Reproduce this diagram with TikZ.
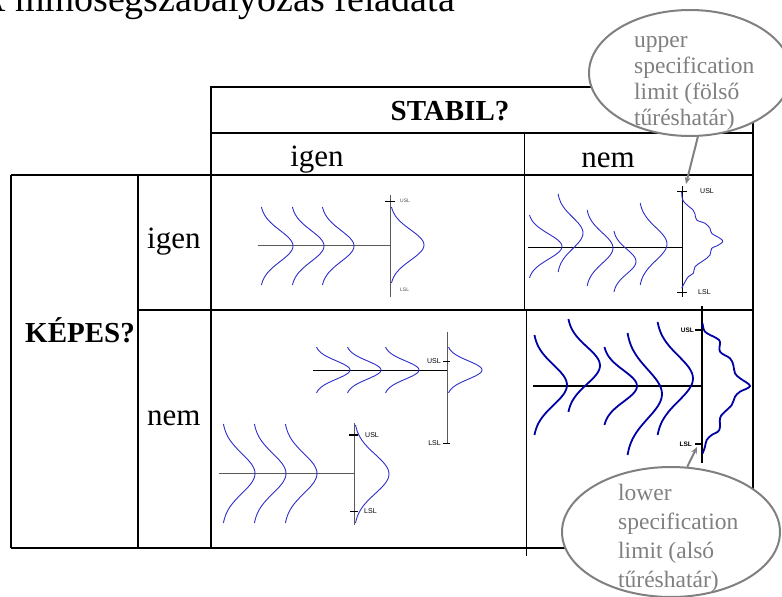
\documentclass[tikz,border=0pt]{standalone}
\usepackage{fontspec}
\setmainfont{Liberation Serif}
\newfontfamily\lsans{Liberation Sans}
\usetikzlibrary{arrows.meta,shapes.geometric}
\definecolor{bluecurve}{RGB}{45,45,200}
\definecolor{darkbluecurve}{RGB}{0,0,165}
\definecolor{callgray}{RGB}{128,128,128}
\newcommand\bellcurve[5]{%
  \draw[#1] plot[domain=-1:1,samples=41,smooth,variable=\t] ({#2+#5*exp(-3.125*\t*\t)},{#3+#4*\t});}
\tikzset{
  tableline/.style={black,line width=1.5},
  innerline/.style={black,line width=1},
  bellline/.style={bluecurve,line width=0.9},
  boldbell/.style={darkbluecurve,line width=1.8},
  greyaxis/.style={black!65,line width=1},
  blackaxis/.style={black,line width=1},
  thickaxis/.style={black,line width=1.6},
  tinylab/.style={font=\lsans\fontsize{5}{5}\selectfont,inner sep=0,black!70},
  smalllab/.style={font=\lsans\fontsize{7}{7}\selectfont,inner sep=0},
  boldlab/.style={font=\lsans\bfseries\fontsize{6.5}{6.5}\selectfont,inner sep=0},
  regtext/.style={font=\fontsize{31}{31}\selectfont,inner sep=0},
  boldtext/.style={font=\bfseries\fontsize{29}{29}\selectfont,inner sep=0},
  callout/.style={ellipse,draw=callgray,fill=white,line width=2,inner sep=0},
  calltext/.style={text=callgray,align=left,inner sep=0,anchor=base west},
  callarrow/.style={draw=callgray,line width=2,-{Stealth[length=7pt,width=6pt]}}
}
\begin{document}
\begin{tikzpicture}[x=1pt,y=-1pt]
\useasboundingbox (0,0) rectangle (782,597);
\clip (0,0) rectangle (782,597);
% title (cut at top)
\node[anchor=base west,inner sep=0,font=\fontsize{38}{38}\selectfont] (title) at (-22,12) {A minőségszabályozás feladata};
% table
\draw[tableline] (211,548) -- (211,87) -- (753,87) -- (753,548);
\draw[tableline] (211,133) -- (753,133);
\draw[tableline] (11,175) -- (753,175);
\draw[tableline] (138,310) -- (753,310);
\draw[tableline] (11,548) -- (753,548);
\draw[tableline] (11,175) -- (11,548);
\draw[tableline] (138,175) -- (138,548);
\draw[innerline] (524,133) -- (524,310);
\draw[innerline] (526,310) -- (526,556);
% headers
\node[boldtext,anchor=base] (stabil) at (450,120) {STABIL?};
\node[regtext,anchor=base] (sigen) at (317,166) {igen};
\node[regtext,anchor=base] (snem) at (608,167) {nem};
\node[boldtext,anchor=base west] (kepes) at (25,342) {KÉPES?};
\node[regtext,anchor=base west] (kigen) at (147,248) {igen};
\node[regtext,anchor=base west] (knem) at (147,425) {nem};
% cell 1: capable and stable
\draw[greyaxis] (258,245) -- (390,245);
\draw[greyaxis] (390,195) -- (390,297);
\draw[blackaxis] (385,201) -- (395,201);
\node[tinylab,anchor=west] (u1) at (400,201) {USL};
\node[tinylab,anchor=west] (l1) at (400,290) {LSL};
\bellcurve{bellline}{260}{246}{39}{33}
\bellcurve{bellline}{291}{246}{39}{33}
\bellcurve{bellline}{321}{246}{39}{33}
\bellcurve{bellline}{390}{245}{38}{34}
% cell 2: capable, not stable
\draw[blackaxis] (528,247) -- (682,247);
\draw[blackaxis] (682,186) -- (682,297);
\draw[blackaxis] (677,191) -- (687,191);
\draw[blackaxis] (677,292) -- (687,292);
\node[smalllab,anchor=west] (u2) at (700,191) {USL};
\node[smalllab,anchor=west] (l2) at (698,292) {LSL};
\bellcurve{bellline}{528}{246.5}{31.5}{34}
\bellcurve{bellline}{557}{233}{39}{26}
\bellcurve{bellline}{586}{248}{38}{27}
\bellcurve{bellline}{613}{261.5}{30.5}{23}
\bellcurve{bellline}{639}{244}{41}{28}
\draw[bellline] plot[smooth,tension=0.6] coordinates {(681.7,191.7) (683.3,201) (693,210) (695,214) (696.7,220) (705,223.3) (710,228.3) (711.7,233.3) (720,238.3) (722.7,241.7) (716.7,246) (711.7,248.3) (710,255) (706.7,258.3) (701.7,261.7) (695,266.7) (693.3,273.3) (688.3,276.7) (683.3,285) (681.7,288.3)};
% cell 3: stable, not capable
\draw[blackaxis] (313,370) -- (447,370);
\draw[greyaxis] (447,332) -- (447,443);
\draw[blackaxis] (443,361) -- (450,361);
\draw[blackaxis] (443,443) -- (450,443);
\node[smalllab,anchor=east] (u3) at (441,361) {USL};
\node[smalllab,anchor=east] (l3) at (441,443) {LSL};
\bellcurve{bellline}{315}{370}{23}{35}
\bellcurve{bellline}{346}{370}{23}{35}
\bellcurve{bellline}{384}{370}{23}{35}
\bellcurve{bellline}{447}{370}{23}{35}
\draw[greyaxis] (219,473) -- (354,473);
\draw[greyaxis] (354,423) -- (354,525);
\draw[thickaxis] (349,435) -- (358,435);
\draw[blackaxis] (350,511) -- (358,511);
\node[smalllab,anchor=west] (u4) at (365,435) {USL};
\node[smalllab,anchor=west] (l4) at (364,511) {LSL};
\bellcurve{bellline}{222}{473.5}{49.5}{33}
\bellcurve{bellline}{253}{473.5}{49.5}{33}
\bellcurve{bellline}{284}{473.5}{49.5}{33}
\bellcurve{bellline}{354}{474}{49}{35}
% cell 4: neither
\draw[thickaxis] (533,386) -- (702,386);
\draw[thickaxis] (702,306) -- (702,463);
\draw[thickaxis] (695,330) -- (702,330);
\draw[thickaxis] (695,444) -- (702,444);
\node[boldlab,anchor=east] (u5) at (694,330) {USL};
\node[boldlab,anchor=east] (l5) at (692,444) {LSL};
\bellcurve{boldbell}{533}{385}{50}{34}
\bellcurve{boldbell}{567}{365.5}{46.5}{33}
\bellcurve{boldbell}{603}{386}{39}{34}
\bellcurve{boldbell}{626}{394}{61}{36}
\bellcurve{boldbell}{656}{378.5}{56.5}{37}
\draw[boldbell] plot[smooth,tension=0.6] coordinates {(702.7,323.3) (705,331.7) (716.7,338.3) (720,342) (720,351.7) (730,358.3) (733.3,365) (735,373.3) (740,378.3) (750,386) (740,391.7) (735,396.7) (731.7,405) (723.3,413.3) (720,418.3) (719.3,430) (711.7,435) (706.7,440) (705,446.7) (702.7,453.3)};
% callouts
\node[callout,minimum width=202,minimum height=126] (ucall) at (690,73) {};
\node[calltext,font=\fontsize{23.5}{25.7}\selectfont] (utext) at (634,125) {upper\\specification\\limit (fölső\\tűréshatár)};
\coordinate (utip) at (686,184);
\draw[callarrow] (ucall.-83) -- (utip);
\node[callout,minimum width=218,minimum height=130] (lcall) at (671,532) {};
\node[calltext,font=\fontsize{23.5}{29}\selectfont] (ltext) at (618,587) {lower\\specification\\limit (alsó\\tűréshatár)};
\coordinate (ltip) at (697,447);
\draw[callarrow] (lcall.76) -- (ltip);
\end{tikzpicture}
\end{document}
